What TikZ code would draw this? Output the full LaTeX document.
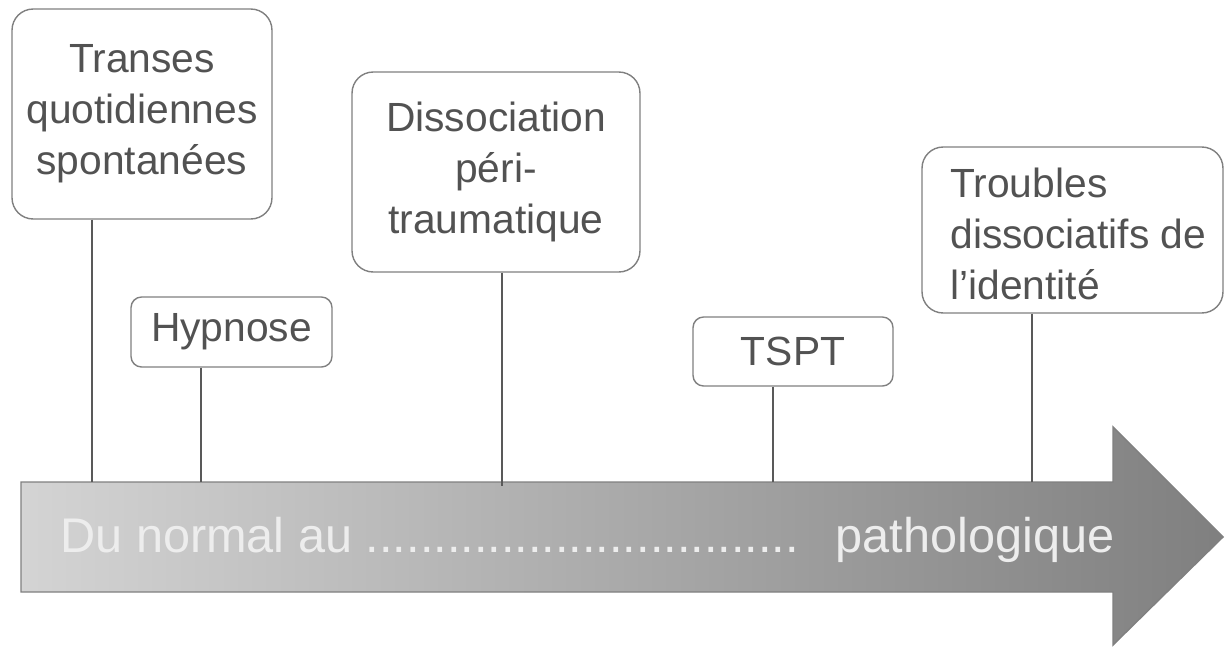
\documentclass[tikz,border=0pt]{standalone}
\usepackage{fontspec}
\setmainfont{Liberation Sans}
\usepackage{tikz}
\usepackage{xcolor}

\begin{document}
\begin{tikzpicture}[x=0.02cm,y=-0.02cm]
                        \tikzset{Box/.style={%
                                shape=rectangle,%
                                draw=black!50,%
                                line width=0.8pt,%
                                rounded corners=12pt,%
                                text=black!68,%
                                align=center,%
                                inner sep=0pt,%
                                font=\fontsize{23.2}{29}\selectfont,%
                            },
                            Small/.style={%
                                Box,%
                                rounded corners=6pt,%
                            }}

                            \useasboundingbox (0,0) rectangle (1227,646);

                            % the arrow
                            \path[draw=black!50, line width=0.8pt, left color=black!17, right color=black!50]
                                (21,482) -- (1113,482) -- (1113,427) -- (1223,537)
                                -- (1113,645) -- (1113,592) -- (21,592) -- cycle;
                            \node[anchor=base west, inner sep=0pt, text=white!93!black,
                                font=\fontsize{27.7}{33}\selectfont] (lbl) at (60,552)
                                {Du normal au ................................\hspace{0.74cm}pathologique};

                            % boxes
                            \node[Box, minimum width=5.2cm, minimum height=4.2cm] (1) at (142,114)
                                {Transes\\quotidiennes\\spontanées};
                            \node[Small, minimum width=4.02cm, minimum height=1.4cm] (2) at (231.5,332) {Hypnose};
                            \node[Box, minimum width=5.76cm, minimum height=4cm] (3) at (496,172)
                                {Dissociation\\péri-\\traumatique};
                            \node[Small, minimum width=4cm, minimum height=1.38cm] (4) at (793,351.5) {TSPT};
                            \node[Box, minimum width=6.02cm, minimum height=3.32cm] (5) at (1072.5,230) {};
                            \node[anchor=west, align=left, inner sep=0pt, text=black!68,
                                font=\fontsize{23.2}{29}\selectfont] (5t) at (950,234)
                                {Troubles\\dissociatifs de\\l’identité};

                            % points on the arrow
                            \coordinate (p1) at (92,482);
                            \coordinate (p2) at (201,482);
                            \coordinate (p3) at (502,486);
                            \coordinate (p4) at (773,482);
                            \coordinate (p5) at (1032,482);

                            \path (p1 |- 1.south) edge[-,line width=1.1pt,draw=black!65] (p1);
                            \path (p2 |- 2.south) edge[-,line width=1.1pt,draw=black!65] (p2);
                            \path (p3 |- 3.south) edge[-,line width=1.1pt,draw=black!65] (p3);
                            \path (p4 |- 4.south) edge[-,line width=1.1pt,draw=black!65] (p4);
                            \path (p5 |- 5.south) edge[-,line width=1.1pt,draw=black!65] (p5);
\end{tikzpicture}
\end{document}
